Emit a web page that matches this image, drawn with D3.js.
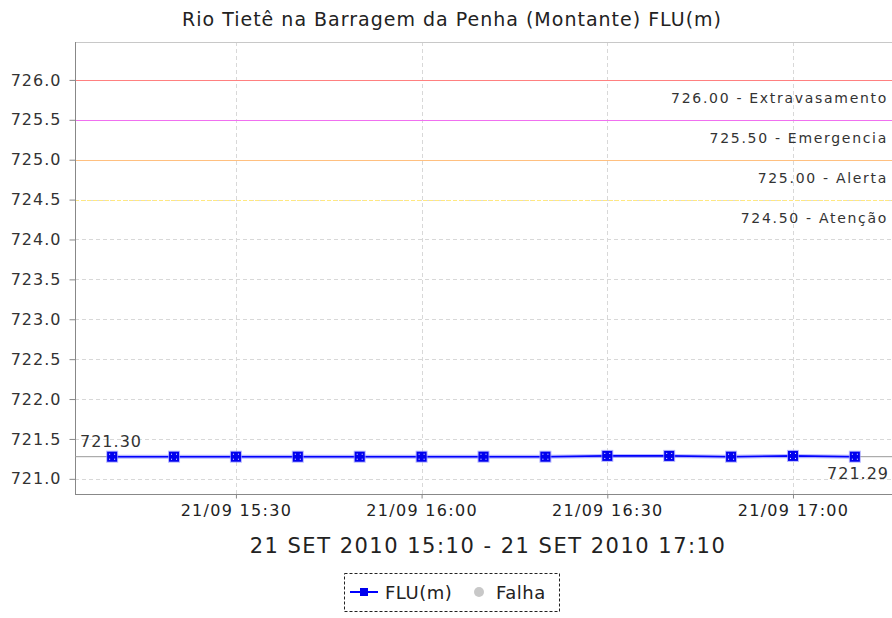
<!DOCTYPE html>
<html><head><meta charset="utf-8">
<script src="https://cdn.jsdelivr.net/npm/d3@7"></script>
<style>body{margin:0;background:#fff;}svg{display:block;font-family:"DejaVu Sans",sans-serif;}</style>
</head><body><svg id="c" width="892" height="618"></svg>
<script>
const title = "Rio Tietê na Barragem da Penha (Montante) FLU(m)";
const times = ["15:10","15:20","15:30","15:40","15:50","16:00","16:10","16:20","16:30","16:40","16:50","17:00","17:10"];
const flu = [721.29,721.29,721.29,721.29,721.29,721.29,721.29,721.29,721.30,721.30,721.29,721.30,721.29];
const thrValues = [726.00,725.50,725.00,724.50];
const thrNames = ["Extravasamento","Emergencia","Alerta","Atenção"];
const thrColors = ["#ff8080","#f070f0","#ffc080","#ffe880"];
const yTicks = [721.0,721.5,722.0,722.5,723.0,723.5,724.0,724.5,725.0,725.5,726.0];
const xTicks = ["15:30","16:00","16:30","17:00"];
const xTickPrefix = "21/09 ";
const xLabel = "21 SET 2010 15:10 - 21 SET 2010 17:10";
const legendItems = ["FLU(m)","Falha"];

const svg = d3.select("#c");
const L=75, R=892, T=42, B=494;
const parse = s => { const [h,m]=s.split(":").map(Number); return new Date(2010,8,21,h,m); };
const x = d3.scaleTime().domain([new Date(2010,8,21,15,4), new Date(2010,8,21,17,16)]).range([L,R]);
const y = d3.scaleLinear().domain([720.81,726.475]).range([B,T]);

// title
svg.append("text").attr("x",452).attr("y",26).attr("text-anchor","middle").attr("font-size",19).attr("letter-spacing","1").attr("fill","#222").text(title);

// grid
const g = svg.append("g");
g.selectAll(".hg").data(yTicks).join("line").attr("x1",L).attr("x2",R).attr("y1",d=>Math.round(y(d))+0.5).attr("y2",d=>Math.round(y(d))+0.5)
 .attr("stroke","#d8d8d8").attr("stroke-dasharray","4,3");
g.selectAll(".vg").data(xTicks).join("line").attr("y1",T).attr("y2",B).attr("x1",d=>Math.round(x(parse(d)))+0.5).attr("x2",d=>Math.round(x(parse(d)))+0.5)
 .attr("stroke","#d8d8d8").attr("stroke-dasharray","4,3");
svg.append("line").attr("x1",L).attr("x2",R).attr("y1",T+0.5).attr("y2",T+0.5).attr("stroke","#c8c8c8");

// thresholds
thrValues.forEach((v,i)=>{
  const yy = Math.round(y(v))+0.5;
  svg.append("line").attr("x1",L).attr("x2",R).attr("y1",yy).attr("y2",yy).attr("stroke",thrColors[i]).attr("stroke-width",1.2)
    .attr("stroke-dasharray", i===3?"4,2":null);
  svg.append("text").attr("x",888).attr("y",yy+22).attr("text-anchor","end").attr("font-size",14).attr("letter-spacing","1.7")
    .attr("fill","#333").text(v.toFixed(2)+" - "+thrNames[i]);
});

// axes
const yAxis = d3.axisLeft(y).tickValues(yTicks).tickFormat(d3.format(".1f")).tickSize(6).tickPadding(8);
const ya = svg.append("g").attr("transform",`translate(${L+0.5},0)`).call(yAxis);
ya.select(".domain").attr("stroke","#888").attr("d",`M0,${T}V${B}`);
ya.selectAll(".tick line").attr("stroke","#888");
ya.selectAll(".tick text").attr("font-size",16).attr("letter-spacing","1").attr("fill","#333").attr("font-family","DejaVu Sans");

const xAxis = d3.axisBottom(x).tickValues(xTicks.map(parse)).tickFormat(d=>xTickPrefix+d3.timeFormat("%H:%M")(d)).tickSize(4).tickPadding(6);
const xa = svg.append("g").attr("transform",`translate(0,${B+0.5})`).call(xAxis);
xa.select(".domain").attr("stroke","#888").attr("d",`M${L},0H${R}`);
xa.selectAll(".tick line").attr("stroke","#888");
xa.selectAll(".tick text").attr("font-size",16).attr("letter-spacing","1.3").attr("fill","#222").attr("font-family","DejaVu Sans");

svg.append("text").attr("x",488).attr("y",553).attr("text-anchor","middle").attr("font-size",21).attr("letter-spacing","1.5").attr("fill","#222").text(xLabel);

// gray reference line at last value
const last = flu[flu.length-1];
svg.append("line").attr("x1",L).attr("x2",R).attr("y1",y(last)+1).attr("y2",y(last)+1).attr("stroke","#999");

// data line
const pts = times.map((t,i)=>({t:parse(t),v:flu[i]}));
const line = d3.line().x(d=>x(d.t)).y(d=>y(d.v)+1);
svg.append("path").datum(pts).attr("d",line).attr("fill","none").attr("stroke","#8888ff").attr("stroke-width",4).attr("opacity",0.6);
svg.append("path").datum(pts).attr("d",line).attr("fill","none").attr("stroke","#0000ff").attr("stroke-width",1.6);
const mk = svg.append("g").selectAll("g").data(pts).join("g").attr("transform",d=>`translate(${x(d.t)},${y(d.v)+1})`);
mk.append("rect").attr("x",-6).attr("y",-6).attr("width",12).attr("height",12).attr("fill","#9999ff").attr("opacity",0.7);
mk.append("rect").attr("x",-5).attr("y",-5).attr("width",10).attr("height",10).attr("fill","#0000ee");
[[-3,-3],[2,-3],[-3,2],[2,2]].forEach(([a,b])=>mk.append("rect").attr("x",a).attr("y",b).attr("width",1).attr("height",1).attr("fill","#fff"));

// max / min labels
const maxV = d3.max(flu), minV = d3.min(flu);
svg.append("text").attr("x",80).attr("y",447).attr("font-size",16).attr("letter-spacing","1").attr("fill","#333").text(maxV.toFixed(2));
svg.append("text").attr("x",889).attr("y",479).attr("text-anchor","end").attr("font-size",16).attr("letter-spacing","1").attr("fill","#333").text(minV.toFixed(2));

// legend
const lg = svg.append("g");
lg.append("rect").attr("x",344.5).attr("y",573.5).attr("width",215).attr("height",38).attr("fill","none").attr("stroke","#222").attr("stroke-dasharray","3,2");
lg.append("line").attr("x1",350).attr("x2",378).attr("y1",592).attr("y2",592).attr("stroke","#0000ff").attr("stroke-width",2);
lg.append("rect").attr("x",360).attr("y",588).attr("width",8).attr("height",8).attr("fill","#0000ee");
lg.append("text").attr("x",385).attr("y",599).attr("font-size",18).attr("letter-spacing","0.5").attr("fill","#222").text(legendItems[0]);
lg.append("circle").attr("cx",479).attr("cy",592).attr("r",5).attr("fill","#c8c8c8");
lg.append("text").attr("x",496).attr("y",599).attr("font-size",18).attr("letter-spacing","0.5").attr("fill","#222").text(legendItems[1]);
</script></body></html>
